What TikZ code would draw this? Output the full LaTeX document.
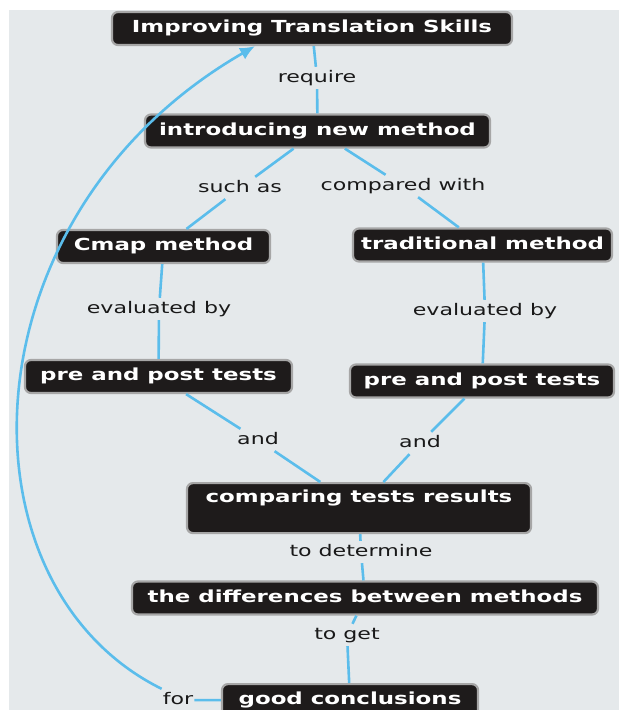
\documentclass[tikz,border=0pt]{standalone}
\usepackage{fontspec}
\setmainfont{DejaVu Sans}[FakeStretch=1.38]
\usepackage{tikz}
\usetikzlibrary{%
	arrows.meta,%
	calc
}
\definecolor{cmapbg}{HTML}{E5E9EB}
\definecolor{cmapblue}{HTML}{5BBDEB}
\definecolor{cmapbox}{HTML}{1E1B1B}
\definecolor{cmapedge}{HTML}{A6A6A6}

\begin{document}
\begin{tikzpicture}[x=1pt,y=-1pt,
		concept/.style={draw=cmapedge,line width=2.2pt,fill=cmapbox,rounded corners=6pt,
			text=white,font=\bfseries\fontsize{16.6}{18}\selectfont,
			text height=12pt,text depth=4pt,inner ysep=8.5pt,inner xsep=0pt},
		linkword/.style={fill=cmapbg,text=black!90,font=\fontsize{16}{18}\selectfont,
			inner sep=3pt,text height=12pt,text depth=4pt},
		link/.style={cmapblue,line width=2.6pt}
	]
	% Page and background
	\useasboundingbox (0,0) rectangle (619,710);
	\fill[white] (0,0) rectangle (619,710);
	\fill[cmapbg] (9,10) rectangle (619,710);
	
	% Concepts
	\node[concept,minimum width=400pt] (improve) at (312,28.5) {Improving Translation Skills};
	\node[concept,minimum width=345pt] (intro) at (317.5,131) {introducing new method};
	\node[concept,minimum width=213pt] (cmap) at (163.5,246.5) {Cmap method};
	\node[concept,minimum width=259pt] (trad) at (482.5,245) {traditional method};
	\node[concept,minimum width=267pt] (preL) at (158.5,376.5) {pre and post tests};
	\node[concept,minimum width=264pt] (preR) at (482,381) {pre and post tests};
	\node[concept,minimum width=344pt,text height=17pt,text depth=28pt,inner ysep=2.5pt,anchor=north] (compare) at (359,482) {comparing tests results};
	\node[concept,minimum width=466pt] (diff) at (365,598) {the differences between methods};
	\node[concept,minimum width=256pt,anchor=north] (good) at (350,683) {good conclusions};
	
	% Linking words
	\node[linkword] (require) at (317,78) {require};
	\node[linkword] (suchas) at (240,188) {such as};
	\node[linkword] (compared) at (403,186) {compared with};
	\node[linkword] (evalL) at (159,309) {evaluated by};
	\node[linkword] (evalR) at (485,311) {evaluated by};
	\node[linkword] (andL) at (258,440) {and};
	\node[linkword] (andR) at (420,443) {and};
	\node[linkword] (determine) at (361,552) {to determine};
	\node[linkword] (toget) at (347,635) {to get};
	\node[linkword,inner xsep=1pt] (for) at (178,700) {for};
	
	% Links
	\draw[link] (intro) -- (require) -- (improve);
	\draw[link] (intro) -- (suchas) -- (cmap);
	\draw[link] (intro) -- (compared) -- (trad);
	\draw[link] (cmap) -- (evalL) -- (preL);
	\draw[link] (trad) -- (evalR) -- (preR);
	\draw[link] (preL) -- (andL) -- (compare);
	\draw[link] (preR) -- (andR) -- (compare);
	\draw[link] (compare) -- (determine) -- (diff);
	\draw[link] (diff) -- (toget) -- (good);
	\draw[link] (good) -- (for);
	% Curved link back to the top
	\draw[link,-{Latex[length=15pt,width=13pt]}] (for.north west) .. controls (-48,585) and (-38,215) .. ([xshift=-57pt]improve.south);
\end{tikzpicture}
\end{document}
